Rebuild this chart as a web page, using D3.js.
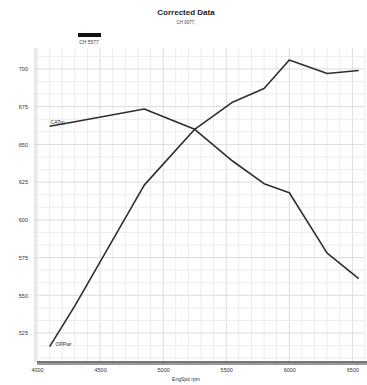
<!DOCTYPE html>
<html>
<head>
<meta charset="utf-8">
<script src="https://cdn.jsdelivr.net/npm/d3@7"></script>
<style>
  html, body { margin: 0; padding: 0; background: #fff; }
  svg { display: block; font-family: "Liberation Sans", Arial, sans-serif; }
</style>
</head>
<body>
<svg id="chart" width="367" height="385"></svg>
<script>
// Engine speed samples (rpm)
const rpm = [4100, 4300, 4850, 5250, 5550, 5800, 6000, 6300, 6550];
// Corrected torque and power curves
const torque = [662, 665, 673.5, 660, 639, 624, 618, 578, 561];
const power  = [516, 543, 623, 660, 678, 687, 706, 697, 699];
const xTicks = [4000, 4500, 5000, 5500, 6000, 6500];
const yTicks = [525, 550, 575, 600, 625, 650, 675, 700];
const seriesNames = ["CATrq", "OPPwr"];

const svg = d3.select("#chart");
const plotLeft = 35, plotRight = 365, plotTop = 48, plotBottom = 362;

const x = d3.scaleLinear().domain([4000, 6600]).range([37, plotRight]);
const y = d3.scaleLinear().domain([505.8, 713.9]).range([plotBottom, plotTop]);

// Minor grid: vertical every 100 rpm, horizontal every third of a major step
const g = svg.append("g");
const vGrid = d3.range(4000, 6601, 100);
g.selectAll("line.v").data(vGrid).join("line")
  .attr("x1", d => x(d)).attr("x2", d => x(d))
  .attr("y1", plotTop).attr("y2", plotBottom)
  .attr("stroke", d => d % 500 === 0 ? "#dcdcdc" : "#ececec").attr("stroke-width", 1);
const hVals = d3.range(-2, 25).map(i => 525 + i * 25 / 3).filter(v => v >= 506 && v <= 713);
g.selectAll("line.h").data(hVals).join("line")
  .attr("x1", plotLeft).attr("x2", plotRight)
  .attr("y1", d => y(d)).attr("y2", d => y(d))
  .attr("stroke", d => Math.abs((d - 525) % 25) < 0.01 ? "#dcdcdc" : "#ececec").attr("stroke-width", 1);

// Left border
svg.append("line").attr("x1", plotLeft).attr("x2", plotLeft).attr("y1", plotTop).attr("y2", plotBottom)
  .attr("stroke", "#d0d0d0");

// Bottom axis bar
svg.append("rect").attr("x", 37).attr("y", plotBottom - 1).attr("width", 330).attr("height", 4)
  .attr("fill", "#9a9a9a");
svg.append("line").attr("x1", 37).attr("x2", 367).attr("y1", plotBottom).attr("y2", plotBottom)
  .attr("stroke", "#555").attr("stroke-width", 1);

// Axis tick labels
const xAxis = svg.append("g").attr("transform", `translate(0,${plotBottom + 4})`)
  .call(d3.axisBottom(x).tickValues(xTicks).tickSize(0).tickPadding(2).tickFormat(d3.format("d")));
xAxis.select(".domain").remove();
xAxis.selectAll("text").attr("font-size", 5.5).attr("fill", "#333");

const yAxis = svg.append("g").attr("transform", "translate(28,0)")
  .call(d3.axisLeft(y).tickValues(yTicks).tickSize(0).tickPadding(0).tickFormat(d3.format("d")));
yAxis.select(".domain").remove();
yAxis.selectAll("text").attr("font-size", 5.5).attr("fill", "#333");

// Curves
const line = d3.line().x((d, i) => x(rpm[i])).y(d => y(d));
[torque, power].forEach(s => {
  svg.append("path").datum(s).attr("d", line)
    .attr("fill", "none").attr("stroke", "#2e2e2e").attr("stroke-width", 1.6)
    .attr("stroke-linejoin", "round");
});

// Series labels at curve starts
svg.append("text").attr("x", x(rpm[0]) + 1).attr("y", y(torque[0]) - 2)
  .attr("font-size", 5).attr("fill", "#333").text(seriesNames[0]);
svg.append("text").attr("x", x(rpm[0]) + 6).attr("y", y(power[0]) - 1)
  .attr("font-size", 5).attr("fill", "#333").text(seriesNames[1]);

// Title block
svg.append("text").attr("x", 186).attr("y", 15).attr("text-anchor", "middle")
  .attr("font-size", 8).attr("font-weight", "bold").attr("fill", "#222").text("Corrected Data");
svg.append("text").attr("x", 186).attr("y", 24).attr("text-anchor", "middle")
  .attr("font-size", 4.5).attr("fill", "#444").text("CH 0077,");

// Legend
svg.append("rect").attr("x", 78).attr("y", 33).attr("width", 23).attr("height", 4).attr("fill", "#111");
svg.append("text").attr("x", 89).attr("y", 44).attr("text-anchor", "middle")
  .attr("font-size", 5).attr("fill", "#444").text("CH 5577");

// X axis title
svg.append("text").attr("x", 186).attr("y", 381).attr("text-anchor", "middle")
  .attr("font-size", 5).attr("fill", "#333").text("EngSpd rpm");
</script>
</body>
</html>
